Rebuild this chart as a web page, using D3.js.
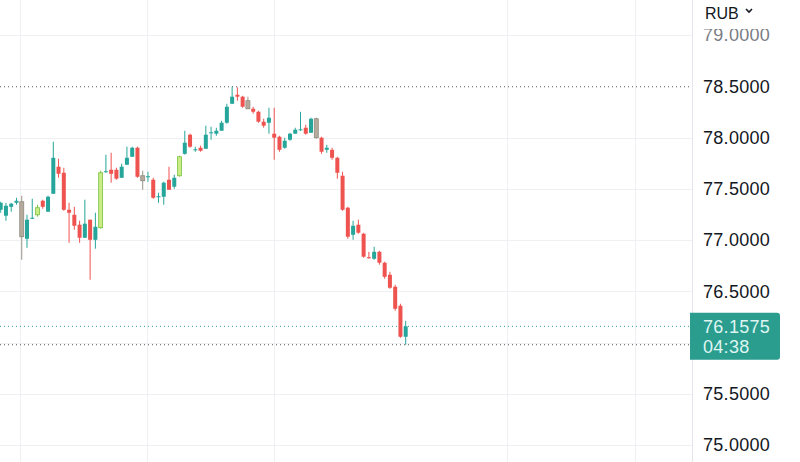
<!DOCTYPE html>
<html><head><meta charset="utf-8">
<script src="https://cdn.jsdelivr.net/npm/d3@7"></script>
<style>html,body{margin:0;padding:0;background:#fff;overflow:hidden}</style>
</head><body>
<svg id="c" width="800" height="462"></svg>
<script>
// ---- data ----
const openV  = [77.295,77.237,77.324,77.363,77.373,77.012,77.207,77.246,77.383,77.276,77.451,77.715,77.656,77.295,77.246,77.149,77.022,77.198,77.002,77.120,77.661,77.685,77.685,77.607,77.734,77.812,77.900,77.627,77.612,77.588,77.417,77.422,77.588,77.520,77.627,77.841,78.027,77.876,77.900,77.890,78.041,78.037,78.066,78.144,78.329,78.417,78.398,78.359,78.280,78.251,78.154,78.144,78.037,78.007,77.900,77.978,78.037,78.071,78.095,78.046,78.183,77.998,77.880,77.880,77.802,77.627,77.315,77.051,77.149,77.061,76.832,76.817,76.885,76.778,76.661,76.544,76.359,76.056];
const highV  = [77.373,77.363,77.363,77.412,77.432,77.246,77.402,77.344,77.393,77.432,77.959,77.793,77.705,77.363,77.324,77.188,77.393,77.198,77.266,77.676,77.832,77.851,77.705,77.744,77.910,77.910,77.910,77.676,77.666,77.607,77.461,77.568,77.715,77.637,77.822,78.066,78.037,77.910,77.920,78.115,78.105,78.095,78.163,78.329,78.495,78.490,78.407,78.398,78.300,78.261,78.183,78.290,78.290,78.017,77.998,78.046,78.095,78.251,78.124,78.193,78.193,78.007,77.929,77.900,77.812,77.666,77.324,77.188,77.198,77.071,76.885,76.934,76.895,76.788,76.690,76.563,76.378,76.212];
const lowV   = [77.266,77.188,77.276,77.344,76.807,76.924,77.205,77.227,77.305,77.276,77.451,77.607,77.285,76.973,77.100,76.973,77.022,76.612,76.915,77.110,77.656,77.559,77.588,77.607,77.734,77.812,77.607,77.490,77.568,77.402,77.363,77.344,77.490,77.500,77.617,77.832,77.900,77.861,77.861,77.890,77.978,78.017,78.066,78.134,78.329,78.359,78.290,78.280,78.232,78.144,78.095,78.037,77.783,77.861,77.890,77.968,78.037,78.066,78.027,78.046,77.988,77.841,77.851,77.783,77.598,77.285,77.012,77.002,77.061,76.827,76.817,76.807,76.759,76.622,76.524,76.310,76.046,75.978];
const closeV = [77.363,77.334,77.354,77.383,77.032,77.198,77.217,77.315,77.324,77.422,77.802,77.646,77.295,77.266,77.139,77.022,77.159,77.002,77.129,77.656,77.671,77.646,77.598,77.715,77.802,77.900,77.617,77.578,77.622,77.412,77.427,77.559,77.490,77.607,77.812,77.949,77.910,77.885,77.871,78.027,78.051,78.066,78.144,78.300,78.398,78.398,78.300,78.280,78.251,78.154,78.115,78.193,77.998,77.880,77.968,78.037,78.076,78.080,78.037,78.183,77.998,77.861,77.900,77.802,77.656,77.295,77.032,77.139,77.071,76.837,76.822,76.885,76.778,76.641,76.534,76.329,76.056,76.1575];
const priceTicks = [75.0,75.5,76.0,76.5,77.0,77.5,78.0,78.5,79.0];
const timeGridIdx = [3.67,27.8,51.96,96.26,120.6];   // vertical grid positions, in bar units
const hollowLime = [7,19,34];          // highlighted bars (lime outline)
const hollowGray = [4,27,47,60];       // highlighted bars (gray)
const currency = "RUB";
const lastPrice = 76.1575;
const countdown = "04:38";

// ---- drawing ----
const W = 800, H = 462, axisX = 692;
const svg = d3.select("#c");
const n = openV.length;
const x = d3.scaleLinear().domain([0, n-1]).range([0.7, 405.7]);
const y = d3.scaleLinear().domain([75, 79]).range([445, 35]);
const FONT = "'Liberation Sans', Arial, sans-serif";

// grid
svg.append("g").selectAll("line").data(priceTicks.filter(d=>d!==78.5)).join("line")
  .attr("x1",0).attr("x2",axisX).attr("y1",d=>Math.round(y(d))+0.5).attr("y2",d=>Math.round(y(d))+0.5)
  .attr("stroke","#eef0f3").attr("stroke-width",1);
svg.append("g").selectAll("line").data(timeGridIdx).join("line")
  .attr("x1",d=>Math.round(x(d))+0.5).attr("x2",d=>Math.round(x(d))+0.5).attr("y1",0).attr("y2",H)
  .attr("stroke","#eef0f3").attr("stroke-width",1);

// high / low dotted lines
const hi = d3.max(highV), lo = d3.min(lowV);
[hi, lo].forEach(v => svg.append("line")
  .attr("x1",0).attr("x2",axisX).attr("y1",y(v)).attr("y2",y(v))
  .attr("stroke","#555").attr("stroke-width",1).attr("stroke-dasharray","1,3"));
// last price dotted line
svg.append("line").attr("x1",0).attr("x2",axisX).attr("y1",y(lastPrice)).attr("y2",y(lastPrice))
  .attr("stroke","#26a69a").attr("stroke-width",1).attr("stroke-dasharray","1,3");

// candles
const idx = d3.range(n);
const UP = "#26a69a", DN = "#ef5350";
const col = i => closeV[i] >= openV[i] ? UP : DN;
const bw = 4;
const g = svg.append("g");
g.selectAll("line.w").data(idx).join("line").attr("class","w")
  .attr("x1",i=>x(i)).attr("x2",i=>x(i)).attr("y1",i=>y(highV[i])).attr("y2",i=>y(lowV[i]))
  .attr("stroke",i=> hollowLime.includes(i) ? "#7cc242" : hollowGray.includes(i) ? "#9a9486" : col(i)).attr("stroke-width",1);
g.selectAll("rect.b").data(idx).join("rect").attr("class","b")
  .attr("x",i=>x(i)-bw/2).attr("width",bw)
  .attr("y",i=>y(Math.max(openV[i],closeV[i])))
  .attr("height",i=>Math.max(1, Math.abs(y(openV[i])-y(closeV[i]))))
  .attr("fill",i=> hollowLime.includes(i) ? "#c9ec86" : hollowGray.includes(i) ? "#b4ab9c" : col(i))
  .attr("stroke",i=> hollowLime.includes(i) ? "#7cc242" : hollowGray.includes(i) ? "#8f8a80" : "none")
  .attr("stroke-width",0.8);

// price axis separator
svg.append("line").attr("x1",axisX+0.5).attr("x2",axisX+0.5).attr("y1",0).attr("y2",H)
  .attr("stroke","#e3e5ea").attr("stroke-width",1);

// price labels (those hidden under the last-price tag are skipped)
const ty = y(lastPrice);
const tagTop = ty - 13.5, tagBot = ty + 33.5;
svg.append("g").selectAll("text").data(priceTicks.filter(d => y(d) < tagTop - 8 || y(d) > tagBot + 8)).join("text")
  .attr("x",703).attr("y",d=>y(d)).attr("dy","0.36em")
  .attr("font-family",FONT).attr("font-size",18).attr("letter-spacing","0.3")
  .attr("fill",d=> d===79 ? "#7a7d85" : "#131722")
  .text(d=>d3.format(".4f")(d));

// header cover + currency
svg.append("rect").attr("x",axisX+1).attr("y",0).attr("width",W-axisX-1).attr("height",29).attr("fill","#fff");
svg.append("text").attr("x",705).attr("y",19).attr("font-family",FONT).attr("font-size",16)
  .attr("fill","#131722").text(currency);
svg.append("path").attr("d","M746,9 L749,12 L752,9").attr("fill","none").attr("stroke","#131722").attr("stroke-width",1.6);

// last-price tag
svg.append("path")
  .attr("d",`M${axisX-2},${tagTop} H777 a3,3 0 0 1 3,3 V${tagBot-3} a3,3 0 0 1 -3,3 H${axisX-2} Z`)
  .attr("fill","#2a9d8f");
svg.append("text").attr("x",703).attr("y",ty+6.5).attr("font-family",FONT).attr("font-size",18)
  .attr("letter-spacing","0.3").attr("fill","#dff5f1").text(d3.format(".4f")(lastPrice));
svg.append("text").attr("x",703).attr("y",ty+26.5).attr("font-family",FONT).attr("font-size",18)
  .attr("letter-spacing","0.3").attr("fill","#dff5f1").text(countdown);
</script>
</body></html>
